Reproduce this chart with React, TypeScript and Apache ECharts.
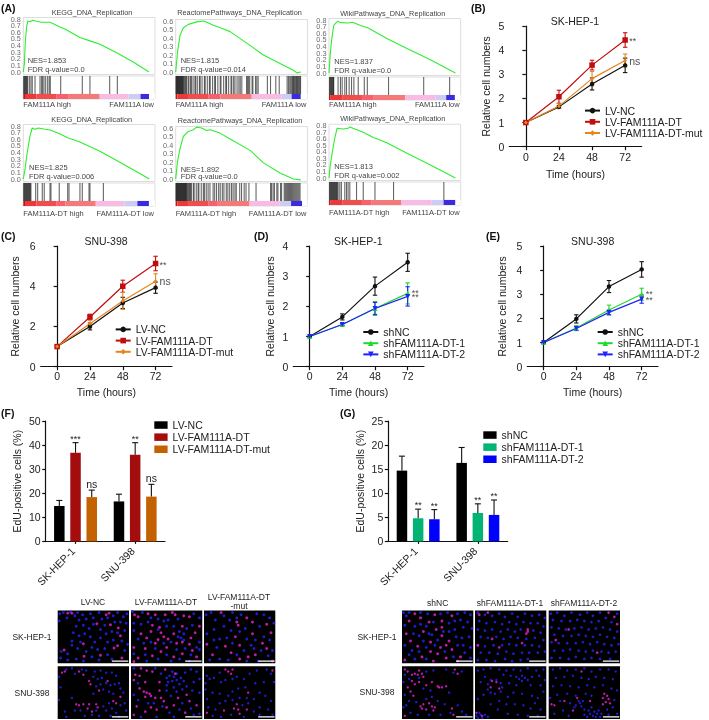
import React, { useEffect, useRef } from "react";
import * as echarts from "echarts";

const FONT = "Liberation Sans";
const INK = "#222222";
const GREY = "#444444";

// ---------- Panel A: enrichment curves [rank %, enrichment score] ----------
const esKeggHigh = [[0,0],[0.8,0.12],[1.5,0.45],[2.5,0.68],[3.5,0.77],[5.1,0.76],[7.1,0.78],[10.1,0.765],[13.9,0.75],[20.3,0.75],[27.8,0.68],[31.6,0.65],[43,0.52],[50.6,0.47],[58.2,0.42],[70.9,0.29],[83.5,0.15],[95.4,0]];
const esReactHigh = [[0,0],[1.5,0.25],[3.3,0.43],[5.8,0.52],[9.6,0.56],[15.9,0.59],[21.5,0.6],[28.6,0.55],[36,0.51],[41.3,0.475],[54,0.34],[66.6,0.2],[79.2,0.1],[89.4,0.02],[92,-0.01],[95,0]];
const esWikiHigh = [[0,0],[1,0.3],[2,0.5],[3.6,0.72],[6.4,0.78],[9.4,0.76],[14.5,0.755],[17.9,0.765],[23.5,0.72],[29.8,0.68],[43.9,0.52],[59.2,0.37],[77,0.2],[96,0]];
const esKeggDt = [[0,0],[1.3,0.15],[3,0.4],[5.1,0.65],[6.8,0.77],[8.9,0.75],[11.4,0.77],[16.5,0.75],[20.3,0.74],[26.6,0.69],[34.2,0.62],[43,0.56],[58.2,0.42],[70.9,0.28],[83.5,0.14],[95.7,0]];
const esReactDt = [[0,0],[1.3,0.2],[3.3,0.36],[5.8,0.5],[9.6,0.56],[13.4,0.58],[15.9,0.61],[19.7,0.6],[23.5,0.57],[26.1,0.58],[33.7,0.54],[41.3,0.47],[56.5,0.337],[66.6,0.19],[79.2,0.07],[89.4,0],[95,-0.01]];
const esWikiDt = [[0,0],[1,0.2],[2.6,0.4],[4.3,0.6],[6.1,0.76],[10.7,0.75],[14.5,0.76],[15.8,0.78],[19.6,0.75],[26,0.7],[33.7,0.62],[43.9,0.54],[59.2,0.38],[77,0.2],[96,0]];

// gene hit ranks (%)
const hitsKeggHigh = [0.3,0.8,1.3,1.8,2.3,2.8,3.3,4.6,5.8,6.8,8.9,12.7,13.9,14.7,15.7,17,18.5,19.7,20.5,28.4,44.8,50.6,65.6,71.4];
const hitsReactHigh = [0.2,0.6,1,1.4,1.8,2.2,2.6,3,3.4,3.8,4.2,4.6,5,5.4,5.8,6.4,7,7.6,8.2,9.4,10,11.2,12,13.2,14.6,15.2,16.4,18,18.6,20,21.8,22.4,24,25.6,26.2,28,29.6,30.2,32,33.8,34.4,36.4,38,38.6,40.2,42,42.6,44,45,46.6,48,49,50.2,53.8,54.6,55.4,56.2,58,58.6,60.6,61.6,62.6,69.6,72,76,78.6,84.6,85.6,86.6,87.4,88.2,88.8,89.4,90,90.6,91.2,91.8,92.4,93,93.6,94.2,94.8];
const hitsWikiHigh = [0.3,0.8,1.3,1.8,2.3,2.8,3.3,3.6,6.9,8.7,10,12,13.3,15.3,17.1,18.9,22.2,26.8,29.1,45.2,71.9,91.6];
const hitsKeggDt = [0.3,0.8,1.3,1.8,2.3,2.8,3.3,3.8,4.3,4.8,5.3,5.8,9.4,10.9,14.4,15.9,20.3,21,27.3,33.7,34.7,43,44.8,49.9,50.6,60.8];
const hitsReactDt = [0.2,0.6,1,1.4,1.8,2.2,2.6,3,3.4,3.8,4.2,4.6,5,5.4,5.8,6.2,6.6,7,7.4,7.8,8.2,8.8,9.4,10,10.6,11.2,12,13.4,14,15.6,17,17.6,19.4,21,21.8,23.2,24.6,26,28.4,29.6,31,32.6,33.8,35.4,36.6,38.4,39.6,41,42.4,43.6,45,46,48.6,50,52,53.4,55.6,61,72,72.8,74,75,76.8,77.6,79.6,80.4,82.4,83.2,84,84.8,85.6,86.4,87.2,88,88.8,89.6,90.4,91.2,92,92.8,93.6,94.4];
const hitsWikiDt = [0.3,0.8,1.3,1.8,2.3,2.8,3.3,3.8,4.3,4.8,5.3,5.8,6.3,6.9,8.2,9.4,12,13.3,14.5,15.8,20.9,26,34.9,49,87.2];

// ranked list colour bands: end rank (%) of each band
const bandColors = ["#c01818", "#ee3838", "#f04d4d", "#f86070", "#f47a7a", "#f8bce4", "#ccccf4", "#3a2ae0", "#ffffff"];
const bandsKeggHigh = [1.3, 10, 25, 34, 58, 80, 89, 95.5, 100];
const bandsReactHigh = [1.3, 10, 25, 34, 57.7, 80.5, 88, 95, 100];
const bandsWikiHigh = [1.3, 10, 25, 34, 58, 81, 89, 95.6, 100];
const bandsKeggDt = [1.3, 10, 25, 32, 55, 77, 86.6, 95.4, 100];
const bandsReactDt = [1.3, 10, 25, 32, 56, 79, 87.6, 96, 100];
const bandsWikiDt = [1.3, 10, 25, 32, 55, 78, 87, 96, 100];

// ---------- Panels B-E: growth curves ----------
const hours = [0, 24, 48, 72];
const lvNames = ["LV-NC", "LV-FAM111A-DT", "LV-FAM111A-DT-mut"];
const shNames = ["shNC", "shFAM111A-DT-1", "shFAM111A-DT-2"];

const bNc = [1, 1.65, 2.6, 3.37];
const bNcErr = [0, 0.05, 0.25, 0.3];
const bDt = [1, 2.07, 3.38, 4.42];
const bDtErr = [0, 0.27, 0.2, 0.3];
const bMut = [1, 1.68, 2.82, 3.57];
const bMutErr = [0, 0.1, 0.3, 0.27];

const cNc = [1, 2, 3.17, 3.93];
const cNcErr = [0, 0.17, 0.28, 0.28];
const cDt = [1, 2.47, 4, 5.13];
const cDtErr = [0, 0.14, 0.3, 0.36];
const cMut = [1, 2.13, 3.27, 4.25];
const cMutErr = [0, 0.2, 0.42, 0.37];

const dNc = [1, 1.65, 2.67, 3.46];
const dNcErr = [0, 0.1, 0.3, 0.3];
const dSh1 = [1, 1.4, 1.93, 2.43];
const dSh1Err = [0, 0.04, 0.23, 0.35];
const dSh2 = [1, 1.4, 1.93, 2.33];
const dSh2Err = [0, 0.03, 0.2, 0.32];

const eNc = [1, 1.98, 3.32, 4.03];
const eNcErr = [0, 0.17, 0.25, 0.32];
const eSh1 = [1, 1.6, 2.35, 3];
const eSh1Err = [0, 0.1, 0.2, 0.25];
const eSh2 = [1, 1.58, 2.25, 2.8];
const eSh2Err = [0, 0.08, 0.1, 0.17];

// ---------- Panels F, G: EdU bars ----------
const cellLines = ["SK-HEP-1", "SNU-398"];
const fNc = [14.7, 16.6];
const fNcTop = [17, 19.6];
const fDt = [36.8, 36];
const fDtTop = [41, 41];
const fMut = [18.4, 18.6];
const fMutTop = [21.3, 23.7];
const gNc = [14.7, 16.3];
const gNcTop = [17.7, 19.5];
const gSh1 = [4.8, 5.9];
const gSh1Top = [6.7, 7.8];
const gSh2 = [4.6, 5.5];
const gSh2Top = [6.6, 8.6];

// ---------- Micrographs: nuclei, % of panel width, % of panel height ----------
const skNcBlue = [[2,20],[3,6],[8,4],[13,14],[18,3],[24,10],[30,18],[28,4],[35,8],[40,16],[46,6],[50,14],[58,4],[62,16],[70,14],[78,10],[84,4],[92,12],[97,6],[96,24],[88,22],[80,22],[66,28],[60,36],[50,26],[44,34],[36,28],[26,30],[22,42],[30,48],[38,44],[46,50],[32,60],[52,60],[60,52],[68,44],[76,40],[84,42],[94,38],[90,58],[78,56],[70,60],[66,72],[56,74],[48,70],[40,78],[28,72],[20,66],[14,82],[5,78],[4,90],[14,94],[26,92],[36,96],[48,88],[58,94],[70,84],[76,92],[94,76],[98,64],[20,58]];
const skNcPink = [[74,27],[85,33],[55,25],[68,8],[72,5],[88,48],[36,63],[84,67],[79,71],[9,75],[37,87],[60,85],[90,90],[20,5],[14,5]];
const skDtBlue = [[2,2],[16,4],[28,14],[38,16],[52,18],[66,16],[88,6],[96,14],[4,24],[14,26],[24,22],[50,30],[60,30],[68,40],[78,34],[86,28],[66,50],[70,52],[74,56],[4,38],[10,54],[18,62],[28,60],[34,72],[46,62],[56,60],[64,74],[76,72],[84,84],[96,60],[96,74],[4,82],[20,84],[22,96],[38,92],[50,84],[56,96],[68,92],[82,96],[92,70],[74,44],[46,20],[38,36]];
const skDtPink = [[5,8],[10,12],[24,6],[34,8],[48,8],[58,4],[62,8],[74,10],[82,12],[30,28],[40,32],[42,42],[46,50],[52,54],[60,44],[38,55],[28,40],[22,52],[4,70],[10,90],[4,97],[20,72],[34,62],[30,86],[42,78],[50,70],[64,62],[72,60],[84,52],[82,64],[90,42],[96,30],[60,88],[72,82],[92,88],[86,76],[72,30],[14,44]];
const skMutBlue = [[3,8],[10,4],[16,18],[28,10],[36,18],[40,4],[52,8],[74,6],[84,8],[92,14],[98,24],[78,30],[58,34],[50,40],[38,38],[28,30],[14,36],[4,44],[22,54],[32,52],[60,54],[72,56],[84,50],[92,56],[66,66],[56,76],[40,62],[18,70],[8,94],[22,92],[34,94],[46,84],[60,96],[70,72],[80,76],[76,96],[96,76],[90,86],[14,56],[46,14]];
const skMutPink = [[46,22],[48,28],[60,14],[68,22],[88,26],[94,42],[68,44],[44,50],[30,68],[38,80],[12,84],[4,64],[24,4],[50,66],[72,84],[88,72],[96,96],[82,62],[62,88],[50,92]];
const snuNcBlue = [[2,20],[12,6],[20,4],[24,14],[34,6],[40,8],[52,10],[60,8],[68,12],[76,12],[82,18],[50,20],[56,24],[62,22],[68,32],[74,36],[80,34],[86,32],[60,34],[54,38],[64,44],[72,48],[78,52],[50,52],[88,42],[92,50],[4,40],[2,64],[10,86],[12,96],[24,84],[32,84],[38,94],[48,92],[54,84],[58,94],[64,76],[68,84],[72,70],[76,80],[82,88],[88,74],[94,70],[96,84],[74,94],[86,96],[20,60]];
const snuNcPink = [[6,12],[10,10],[30,10],[36,16],[44,28],[46,34],[58,46],[70,28],[26,72],[30,74],[36,72],[42,80],[54,72],[56,78],[78,66],[82,70],[88,58],[44,72],[48,86]];
const snuDtBlue = [[4,4],[34,4],[42,14],[54,18],[58,28],[50,22],[60,20],[64,26],[70,22],[68,34],[52,30],[76,12],[84,6],[92,10],[96,24],[88,30],[78,38],[60,40],[50,46],[56,56],[64,48],[72,44],[86,46],[96,50],[10,32],[4,54],[10,64],[24,70],[32,70],[44,76],[54,88],[60,96],[68,82],[72,70],[84,80],[96,90],[88,92],[36,96],[14,96],[50,36],[64,14],[74,28],[58,10]];
const snuDtPink = [[6,16],[12,18],[20,30],[4,26],[14,4],[22,8],[30,10],[48,6],[62,14],[18,48],[22,50],[26,52],[20,58],[28,56],[34,60],[40,46],[42,60],[46,66],[50,78],[60,74],[36,82],[8,76],[4,92],[20,86],[28,78],[66,60],[78,54],[82,66],[76,88],[92,74],[40,30],[12,42]];
const snuMutBlue = [[4,18],[8,24],[2,32],[14,22],[22,12],[24,30],[30,26],[40,24],[46,20],[56,24],[64,14],[74,8],[88,6],[94,14],[98,30],[84,30],[72,32],[58,40],[48,42],[40,48],[34,56],[22,52],[12,50],[4,62],[6,78],[16,82],[22,70],[30,66],[40,64],[50,60],[60,60],[70,62],[78,50],[86,56],[94,66],[90,82],[78,78],[70,86],[62,70],[54,74],[38,92],[24,96],[12,94],[56,96],[78,92],[96,92],[2,44]];
const snuMutPink = [[30,6],[34,10],[38,14],[40,6],[4,88],[28,84],[42,80],[48,82],[50,90],[46,72],[62,50],[60,82],[96,8]];
const skShNcBlue = [[2,4],[10,4],[26,4],[36,6],[54,6],[64,4],[78,6],[88,4],[96,8],[4,28],[18,30],[26,26],[34,30],[44,22],[66,24],[74,20],[82,18],[92,22],[98,34],[86,32],[74,36],[66,40],[58,40],[38,44],[24,48],[16,44],[4,66],[14,76],[24,78],[34,70],[46,66],[76,50],[84,52],[94,50],[86,66],[96,70],[78,66],[72,88],[88,80],[96,90],[60,78],[34,92],[18,92],[10,84],[50,56],[30,58],[6,10],[42,46]];
const skShNcPink = [[10,20],[18,6],[26,14],[30,40],[38,22],[46,8],[48,36],[56,20],[56,48],[62,66],[66,58],[54,70],[50,82],[40,60],[22,68],[12,58],[6,44],[40,78],[28,88],[70,74],[62,90],[44,96],[82,88],[4,94],[78,96],[56,32],[70,10]];
const skSh1Blue = [[4,4],[14,8],[24,10],[34,6],[42,12],[52,6],[60,12],[70,6],[80,10],[90,8],[98,14],[6,20],[16,24],[28,22],[38,26],[48,22],[58,26],[68,22],[78,24],[88,24],[96,30],[4,36],[14,38],[24,36],[36,40],[46,36],[56,40],[64,36],[82,38],[92,42],[8,50],[18,52],[30,50],[40,54],[50,50],[60,52],[72,54],[84,52],[96,56],[4,66],[14,68],[26,66],[38,66],[48,64],[58,66],[70,66],[80,66],[90,68],[8,80],[20,80],[32,82],[44,78],[54,82],[66,80],[76,80],[88,80],[98,78],[4,94],[16,94],[28,96],[42,92],[52,96],[64,94],[74,92]];
const skSh1Pink = [[74,36],[74,40],[72,44],[18,4],[6,8],[24,54],[4,66],[34,70],[66,62]];
const skSh2Blue = [[3,6],[12,4],[22,10],[32,4],[44,8],[54,4],[62,10],[72,4],[80,14],[96,6],[6,18],[18,20],[30,20],[40,18],[50,20],[60,22],[70,20],[88,22],[4,32],[14,34],[24,36],[36,34],[46,32],[56,36],[66,34],[76,32],[86,36],[96,40],[8,46],[20,48],[32,48],[42,46],[52,48],[62,50],[72,46],[82,50],[92,52],[4,60],[14,62],[26,62],[38,62],[48,60],[58,64],[68,60],[78,64],[88,66],[98,64],[8,76],[20,76],[30,74],[42,76],[52,78],[62,76],[74,78],[84,80],[94,78],[4,90],[16,90],[28,92],[38,88],[50,92],[60,90],[72,92],[86,92]];
const skSh2Pink = [[84,4],[92,12],[10,56],[68,80],[28,36],[96,26]];
const snuShNcBlue = [[4,16],[10,24],[2,30],[24,22],[34,10],[44,8],[62,6],[72,12],[84,10],[4,54],[10,66],[20,68],[2,78],[12,88],[22,92],[34,62],[42,58],[50,66],[60,72],[78,74],[84,86],[90,92],[68,88],[54,92],[38,92],[30,42],[40,46],[66,50],[6,74]];
const snuShNcPink = [[4,6],[8,10],[14,16],[18,14],[22,16],[24,8],[28,14],[30,20],[14,28],[18,34],[24,30],[8,40],[12,48],[16,56],[34,36],[42,30],[50,38],[52,40],[56,40],[62,38],[30,72],[26,76],[28,80],[34,82],[38,70],[42,76],[44,84],[46,78],[70,80],[72,92],[74,6],[78,14],[4,94]];
const snuSh1Blue = [[4,8],[12,6],[22,4],[34,6],[44,8],[54,6],[64,8],[74,4],[86,8],[96,6],[14,20],[8,30],[40,16],[50,18],[58,20],[62,24],[66,18],[70,22],[66,28],[74,26],[80,20],[90,18],[98,26],[22,26],[30,26],[36,32],[38,40],[36,48],[28,52],[22,50],[18,44],[18,34],[48,32],[58,36],[78,36],[92,36],[96,48],[12,54],[4,62],[46,58],[54,50],[66,52],[80,56],[88,60],[84,70],[78,80],[92,82],[68,74],[56,72],[44,72],[34,66],[22,72],[32,82],[46,90],[60,92],[74,94],[88,94],[2,94],[6,88],[10,98],[14,92],[4,98],[18,96],[8,92]];
const snuSh1Pink = [[24,28],[30,30],[34,42],[22,40],[10,94],[2,88]];
const snuSh2Blue = [[6,6],[16,4],[26,8],[38,6],[50,4],[60,10],[72,6],[84,6],[94,10],[10,22],[22,20],[34,18],[46,22],[56,24],[66,20],[78,22],[90,24],[6,38],[18,36],[30,38],[42,40],[54,36],[64,40],[76,36],[88,42],[96,46],[12,54],[26,52],[38,56],[52,52],[60,56],[2,60],[16,66],[30,70],[38,74],[42,66],[44,70],[46,76],[48,66],[36,78],[50,82],[56,84],[60,78],[64,86],[58,90],[62,94],[66,96],[54,96],[68,90],[70,84],[72,96],[74,90],[50,92],[20,84],[8,90],[28,94],[82,82],[90,78],[96,90],[84,92],[92,64]];
const snuSh2Pink = [[4,72],[8,74],[22,66],[40,60],[58,66],[76,60],[78,52],[82,56],[84,62],[80,68],[86,70],[76,72],[34,84],[46,10]];
const scaleBarSpan = [76, 99];
const scaleBarHeight = 96;

function buildOption() {
  const grids: any[] = [];
  const xAxes: any[] = [];
  const yAxes: any[] = [];
  const series: any[] = [];
  const legends: any[] = [];
  const texts: any[] = [];

  const text = (s: string, x: number, y: number, size: number, o: any = {}) => {
    const align = o.align || "left";
    texts.push({
      type: "text", x, y, z: 50, silent: true,
      style: {
        text: s, fontSize: size, fontFamily: FONT, fontWeight: o.weight || "normal",
        fill: o.color || INK, align, textAlign: align, verticalAlign: "middle", textVerticalAlign: "middle",
      },
    });
  };

  const addAxes = (g: any, x: any, y: any) => {
    grids.push({ containLabel: false, ...g });
    const i = grids.length - 1;
    xAxes.push({ gridIndex: i, ...x });
    yAxes.push({ gridIndex: i, ...y });
    return i;
  };

  // -------- panel A --------
  const gsea = (c: any) => {
    const L = c.left, W = 131.7;
    const pxPerUnit = (c.zero - c.topY) / c.maxTick;
    const ticks: number[] = [];
    for (let t = 0; t <= c.maxTick * 10 + 0.01; t++) ticks.push(t / 10);
    const i = addAxes(
      { left: L, top: c.topY - 1.5, width: W, height: c.zero - c.topY + 4, show: true, borderColor: "#dddddd", borderWidth: 1, backgroundColor: "#ffffff" },
      { type: "value", min: 0, max: 100, show: false },
      {
        type: "value", min: -2.5 / pxPerUnit, max: c.maxTick + 1.5 / pxPerUnit,
        axisLine: { show: false }, axisTick: { show: false }, splitLine: { show: false }, axisLabel: { show: false },
      },
    );
    series.push({
      type: "line", xAxisIndex: i, yAxisIndex: i, data: c.es, symbol: "none", silent: true,
      lineStyle: { color: "#2fee2f", width: 1.1 },
    });
    // tick labels hung on the score scale, so every 0.1 step stays visible
    series.push({
      type: "scatter", xAxisIndex: i, yAxisIndex: i, silent: true, symbolSize: 1, clip: false,
      itemStyle: { color: "rgba(0,0,0,0)" },
      data: ticks.map((t) => [0, t]),
      label: { show: true, position: "left", distance: 2, formatter: (p: any) => p.value[1].toFixed(1), fontSize: 7.3, fontFamily: FONT, color: GREY },
    });
    const s = addAxes(
      { left: L, top: c.zero + 4, width: W, height: 23, show: true, borderColor: "#dddddd", borderWidth: 1 },
      { type: "value", min: 0, max: 100, show: false },
      { type: "value", min: 0, max: 1, show: false },
    );
    const split = 0.22;
    series.push({
      type: "custom", xAxisIndex: s, yAxisIndex: s, silent: true, clip: true,
      data: c.bands.map((end: number, k: number) => [k === 0 ? 0 : c.bands[k - 1], end, k]),
      encode: { x: [0, 1] },
      renderItem: (_: any, api: any) => {
        const a = api.coord([api.value(0), split]);
        const b = api.coord([api.value(1), 0]);
        return { type: "rect", shape: { x: a[0], y: a[1], width: b[0] - a[0], height: b[1] - a[1] }, style: { fill: bandColors[api.value(2)] } };
      },
    });
    series.push({
      type: "custom", xAxisIndex: s, yAxisIndex: s, silent: true, clip: true,
      data: c.hits.map((h: number) => [h]),
      encode: { x: 0 },
      renderItem: (_: any, api: any) => {
        const a = api.coord([api.value(0), 1]);
        const b = api.coord([api.value(0), split]);
        return { type: "rect", shape: { x: a[0] - 0.55, y: a[1], width: 1.1, height: b[1] - a[1] }, style: { fill: "rgba(0,0,0,0.6)" } };
      },
    });
    text(c.title, c.titleX, c.titleY, 7.3, { align: "center", color: GREY });
    text(c.nes, c.noteX, c.nesY, 7.5, { color: GREY });
    text(c.fdr, c.noteX, c.fdrY, 7.5, { color: GREY });
    text(c.highLabel, L, c.labelY, 7.5, { color: GREY });
    text(c.lowLabel, L + W - 1, c.labelY, 7.5, { align: "right", color: GREY });
  };
  const kegg = "KEGG_DNA_Replication", react = "ReactomePathways_DNA_Replication", wiki = "WikiPathways_DNA_Replication";
  gsea({ left: 23.3, topY: 19, zero: 72, maxTick: 0.8, es: esKeggHigh, hits: hitsKeggHigh, bands: bandsKeggHigh, title: kegg, titleX: 92, titleY: 12, nes: "NES=1.853", fdr: "FDR q-value=0.0", noteX: 27.7, nesY: 60, fdrY: 69, highLabel: "FAM111A high", lowLabel: "FAM111A low", labelY: 104 });
  gsea({ left: 175.7, topY: 21, zero: 72, maxTick: 0.6, es: esReactHigh, hits: hitsReactHigh, bands: bandsReactHigh, title: react, titleX: 239.5, titleY: 12.5, nes: "NES=1.815", fdr: "FDR q-value=0.014", noteX: 180.7, nesY: 60.7, fdrY: 69, highLabel: "FAM111A high", lowLabel: "FAM111A low", labelY: 104 });
  gsea({ left: 329, topY: 20, zero: 73, maxTick: 0.8, es: esWikiHigh, hits: hitsWikiHigh, bands: bandsWikiHigh, title: wiki, titleX: 392.7, titleY: 13.3, nes: "NES=1.837", fdr: "FDR q-value=0.0", noteX: 334.3, nesY: 61, fdrY: 70, highLabel: "FAM111A high", lowLabel: "FAM111A low", labelY: 104 });
  gsea({ left: 23.3, topY: 126, zero: 179, maxTick: 0.8, es: esKeggDt, hits: hitsKeggDt, bands: bandsKeggDt, title: kegg, titleX: 91.7, titleY: 119, nes: "NES=1.825", fdr: "FDR q-value=0.006", noteX: 29, nesY: 167.3, fdrY: 176.3, highLabel: "FAM111A-DT high", lowLabel: "FAM111A-DT low", labelY: 213 });
  gsea({ left: 175.7, topY: 128, zero: 179, maxTick: 0.6, es: esReactDt, hits: hitsReactDt, bands: bandsReactDt, title: react, titleX: 240, titleY: 120, nes: "NES=1.892", fdr: "FDR q-value=0.0", noteX: 180.7, nesY: 169, fdrY: 176.7, highLabel: "FAM111A-DT high", lowLabel: "FAM111A-DT low", labelY: 213 });
  gsea({ left: 329, topY: 125.7, zero: 178, maxTick: 0.8, es: esWikiDt, hits: hitsWikiDt, bands: bandsWikiDt, title: wiki, titleX: 392.7, titleY: 118.3, nes: "NES=1.813", fdr: "FDR q-value=0.002", noteX: 334.3, nesY: 166, fdrY: 175, highLabel: "FAM111A-DT high", lowLabel: "FAM111A-DT low", labelY: 212 });

  // -------- panels B-E --------
  const axisLine = { show: true, lineStyle: { color: "#111111", width: 1.2 } };
  const tickLab = { fontSize: 10.5, fontFamily: FONT, color: INK };
  const nameText = { fontSize: 10.5, fontFamily: FONT, color: INK };

  const growth = (c: any) => {
    const i = addAxes(
      { left: c.left, top: c.top, width: c.width, height: c.bottom - c.top },
      {
        type: "value", min: -12, max: 84, splitLine: { show: false }, axisLine,
        axisTick: { show: true, length: 3.5, customValues: hours, lineStyle: { color: "#111111", width: 1.2 } },
        axisLabel: { ...tickLab, customValues: hours, margin: c.xMargin },
        name: "Time (hours)", nameLocation: "middle", nameGap: c.xGap, nameTextStyle: nameText,
      },
      {
        type: "value", min: 0, max: c.yMax, interval: c.yStep, splitLine: { show: false }, axisLine,
        axisTick: { show: true, length: 3.5, lineStyle: { color: "#111111", width: 1.2 } },
        axisLabel: { ...tickLab, margin: 5 },
        name: "Relative cell numbers", nameLocation: "middle", nameGap: c.yGap, nameTextStyle: nameText,
      },
    );
    c.lines.forEach((l: any) => {
      series.push({
        type: "line", name: l.name, xAxisIndex: i, yAxisIndex: i, silent: true, z: 3,
        data: hours.map((h, k) => [h, l.vals[k]]),
        symbol: l.symbol, symbolSize: l.size, symbolRotate: l.rotate || 0,
        lineStyle: { color: l.color, width: 1.2 }, itemStyle: { color: l.color },
      });
      series.push({
        type: "custom", xAxisIndex: i, yAxisIndex: i, silent: true, z: 2,
        data: hours.map((h, k) => [h, l.vals[k] - l.errs[k], l.vals[k] + l.errs[k]]),
        encode: { x: 0, y: [1, 2] },
        renderItem: (_: any, api: any) => {
          const lo = api.coord([api.value(0), api.value(1)]);
          const hi = api.coord([api.value(0), api.value(2)]);
          const st = { stroke: l.color, lineWidth: 1.1 };
          return {
            type: "group",
            children: [
              { type: "line", shape: { x1: lo[0], y1: lo[1], x2: hi[0], y2: hi[1] }, style: st },
              { type: "line", shape: { x1: lo[0] - 2.2, y1: lo[1], x2: lo[0] + 2.2, y2: lo[1] }, style: st },
              { type: "line", shape: { x1: hi[0] - 2.2, y1: hi[1], x2: hi[0] + 2.2, y2: hi[1] }, style: st },
            ],
          };
        },
      });
    });
    c.notes.forEach((n: any) => {
      const isNs = n[2] === "ns";
      series.push({
        type: "scatter", xAxisIndex: i, yAxisIndex: i, silent: true, symbolSize: 1, z: 4,
        itemStyle: { color: "rgba(0,0,0,0)" },
        data: [[n[0], n[1]]],
        label: { show: true, position: "right", distance: n[3], offset: [0, n[4]], formatter: () => n[2], fontFamily: FONT, fontSize: isNs ? 10.5 : 9, lineHeight: isNs ? 12 : 3.5, color: INK },
      });
    });
    legends.push({
      left: c.legendLeft, top: c.legendTop, orient: "vertical", padding: 0, itemGap: 0, itemWidth: 15, itemHeight: 7,
      selectedMode: false, data: c.lines.map((l: any) => l.name),
      textStyle: { fontSize: 10.5, fontFamily: FONT, color: INK, lineHeight: 11.2 },
    });
    text(c.title, c.titleX, c.titleY, 10.5, { align: "center" });
  };

  const RED = "#c00d0d", ORANGE = "#e6851e", BLACK = "#111111", GREEN = "#22d82c", BLUE = "#2222ff";
  const lvLines = (a: number[], ae: number[], b: number[], be: number[], m: number[], me: number[]) => [
    { name: lvNames[0], vals: a, errs: ae, color: BLACK, symbol: "circle", size: 4.5 },
    { name: lvNames[1], vals: b, errs: be, color: RED, symbol: "rect", size: 5.5 },
    { name: lvNames[2], vals: m, errs: me, color: ORANGE, symbol: "diamond", size: 4 },
  ];
  const shLines = (a: number[], ae: number[], b: number[], be: number[], m: number[], me: number[]) => [
    { name: shNames[0], vals: a, errs: ae, color: BLACK, symbol: "circle", size: 4.5 },
    { name: shNames[1], vals: b, errs: be, color: GREEN, symbol: "triangle", size: 5 },
    { name: shNames[2], vals: m, errs: me, color: BLUE, symbol: "triangle", size: 5, rotate: 180 },
  ];
  growth({ left: 509.3, top: 26, width: 132.4, bottom: 146.7, yMax: 5, yStep: 1, xMargin: 5, xGap: 21.7, yGap: 18, title: "SK-HEP-1", titleX: 575, titleY: 21, lines: lvLines(bNc, bNcErr, bDt, bDtErr, bMut, bMutErr), notes: [[72, 4.42, "**", 3.5, 1], [72, 3.57, "ns", 3.5, 0]], legendLeft: 584, legendTop: 105 });
  growth({ left: 40.7, top: 246, width: 131.3, bottom: 366.7, yMax: 6, yStep: 2, xMargin: 3.5, xGap: 19.7, yGap: 20, title: "SNU-398", titleX: 106, titleY: 240.7, lines: lvLines(cNc, cNcErr, cDt, cDtErr, cMut, cMutErr), notes: [[72, 5.13, "**", 3.5, 1], [72, 4.25, "ns", 3.5, 0]], legendLeft: 114.7, legendTop: 323.8 });
  growth({ left: 293.3, top: 246, width: 130.7, bottom: 366.7, yMax: 4, yStep: 1, xMargin: 3.5, xGap: 19.7, yGap: 18, title: "SK-HEP-1", titleX: 358.3, titleY: 240.7, lines: shLines(dNc, dNcErr, dSh1, dSh1Err, dSh2, dSh2Err), notes: [[72, 2.43, "**", 3.5, 0], [72, 2.33, "**", 3.5, 1]], legendLeft: 362.3, legendTop: 326.4 });
  growth({ left: 527.3, top: 246, width: 130.7, bottom: 366.7, yMax: 5, yStep: 1, xMargin: 3.5, xGap: 19.7, yGap: 20, title: "SNU-398", titleX: 592.7, titleY: 240.7, lines: shLines(eNc, eNcErr, eSh1, eSh1Err, eSh2, eSh2Err), notes: [[72, 3, "**", 3.5, 0], [72, 2.8, "**", 3.5, 1]], legendLeft: 596.7, legendTop: 326.4 });

  // -------- panels F, G --------
  const BAR_W = 10.5, BAR_GAP = 5.7;
  const edu = (c: any) => {
    const i = addAxes(
      { left: c.left, top: c.top, width: c.width, height: 120.4 },
      {
        type: "category", data: cellLines, axisLine,
        axisTick: { show: true, alignWithLabel: true, length: 2.5, lineStyle: { color: "#111111", width: 1.2 } },
        axisLabel: { ...tickLab, rotate: 45, margin: 6, interval: 0, padding: [0, 3, 0, 0] },
      },
      {
        type: "value", min: 0, max: c.yMax, interval: c.yStep, splitLine: { show: false }, axisLine,
        axisTick: { show: true, length: 3.5, lineStyle: { color: "#111111", width: 1.2 } },
        axisLabel: { ...tickLab, margin: 5 },
        name: "EdU-positive cells (%)", nameLocation: "middle", nameGap: c.yGap, nameTextStyle: nameText,
      },
    );
    c.bars.forEach((b: any, k: number) => {
      series.push({
        type: "bar", name: c.prefix + b.name, xAxisIndex: i, yAxisIndex: i, silent: true, barWidth: BAR_W, barGap: (BAR_GAP / BAR_W) * 100 + "%",
        data: b.vals, itemStyle: { color: b.color },
      });
      series.push({
        type: "custom", xAxisIndex: i, yAxisIndex: i, silent: true, z: 3,
        data: b.vals.map((v: number, j: number) => [j, v, b.tops[j]]),
        encode: { x: 0, y: [1, 2] },
        renderItem: (_: any, api: any) => {
          const j = api.value(0);
          const lo = api.coord([j, api.value(1)]);
          const hi = api.coord([j, api.value(2)]);
          const x = lo[0] + (k - 1) * (BAR_W + BAR_GAP);
          const mark = b.sig[j];
          const st = { stroke: "#111111", lineWidth: 1.1 };
          return {
            type: "group",
            children: [
              { type: "line", shape: { x1: x, y1: lo[1], x2: x, y2: hi[1] }, style: st },
              { type: "line", shape: { x1: x - 3, y1: hi[1], x2: x + 3, y2: hi[1] }, style: st },
              {
                type: "text", x, y: hi[1] + (mark === "ns" ? -0.5 : 0.5),
                style: { text: mark, align: "center", textAlign: "center", verticalAlign: "bottom", textVerticalAlign: "bottom", fontFamily: FONT, fontSize: mark === "ns" ? 10.5 : 9, fill: INK },
              },
            ],
          };
        },
      });
    });
    legends.push({
      left: c.legendLeft, top: c.legendTop, orient: "vertical", padding: 0, itemGap: 0, itemWidth: 13.3, itemHeight: 7.5, icon: "rect",
      selectedMode: false, data: c.bars.map((b: any) => c.prefix + b.name), formatter: (n: string) => n.slice(c.prefix.length),
      textStyle: { fontSize: 10.5, fontFamily: FONT, color: INK, lineHeight: 12.1 },
    });
  };
  edu({
    left: 45.7, top: 421, width: 119.3, yMax: 50, yStep: 10, yGap: 23.7, prefix: "F:", legendLeft: 154.3, legendTop: 419,
    bars: [
      { name: lvNames[0], vals: fNc, tops: fNcTop, color: "#000000", sig: ["", ""] },
      { name: lvNames[1], vals: fDt, tops: fDtTop, color: "#a30d0d", sig: ["***", "**"] },
      { name: lvNames[2], vals: fMut, tops: fMutTop, color: "#c46200", sig: ["ns", "ns"] },
    ],
  });
  edu({
    left: 388.3, top: 421, width: 119.4, yMax: 25, yStep: 5, yGap: 22.6, prefix: "G:", legendLeft: 483.3, legendTop: 429,
    bars: [
      { name: shNames[0], vals: gNc, tops: gNcTop, color: "#000000", sig: ["", ""] },
      { name: shNames[1], vals: gSh1, tops: gSh1Top, color: "#00b473", sig: ["**", "**"] },
      { name: shNames[2], vals: gSh2, tops: gSh2Top, color: "#0000ff", sig: ["**", "**"] },
    ],
  });

  // -------- micrographs --------
  const micro = (left: number, top: number, blue: number[][], pink: number[][], size: number) => {
    const i = addAxes(
      { left, top, width: 71.3, height: 52.7, show: true, backgroundColor: "#000000", borderWidth: 0 },
      { type: "value", min: 0, max: 100, show: false },
      { type: "value", min: 0, max: 100, inverse: true, show: false },
    );
    series.push({ type: "scatter", xAxisIndex: i, yAxisIndex: i, silent: true, data: blue, symbolSize: size, itemStyle: { color: "#2424ff" } });
    series.push({ type: "scatter", xAxisIndex: i, yAxisIndex: i, silent: true, data: pink, symbolSize: size, z: 3, itemStyle: { color: "#f020d0" } });
    series.push({
      type: "line", xAxisIndex: i, yAxisIndex: i, silent: true, symbol: "none", z: 4,
      data: scaleBarSpan.map((x) => [x, scaleBarHeight]), lineStyle: { color: "#ffffff", width: 1.2 },
    });
  };
  const ROW1 = 610.5, ROW2 = 666.3;
  micro(57.7, ROW1, skNcBlue, skNcPink, 2.9);
  micro(131, ROW1, skDtBlue, skDtPink, 2.9);
  micro(204, ROW1, skMutBlue, skMutPink, 2.9);
  micro(57.7, ROW2, snuNcBlue, snuNcPink, 2.4);
  micro(131, ROW2, snuDtBlue, snuDtPink, 2.6);
  micro(204, ROW2, snuMutBlue, snuMutPink, 2.4);
  micro(402, ROW1, skShNcBlue, skShNcPink, 2.9);
  micro(475, ROW1, skSh1Blue, skSh1Pink, 2.7);
  micro(548.7, ROW1, skSh2Blue, skSh2Pink, 2.7);
  micro(402, ROW2, snuShNcBlue, snuShNcPink, 2.4);
  micro(475, ROW2, snuSh1Blue, snuSh1Pink, 2.4);
  micro(548.7, ROW2, snuSh2Blue, snuSh2Pink, 2.4);

  text("LV-NC", 93, 602, 8.5, { align: "center" });
  text("LV-FAM111A-DT", 166, 602, 8.5, { align: "center" });
  text("LV-FAM111A-DT", 239, 597, 8.5, { align: "center" });
  text("-mut", 239, 606, 8.5, { align: "center" });
  text("SK-HEP-1", 32, 637, 8.5, { align: "center" });
  text("SNU-398", 32, 693, 8.5, { align: "center" });
  text("shNC", 437.7, 603, 8.5, { align: "center" });
  text("shFAM111A-DT-1", 510, 603, 8.5, { align: "center" });
  text("shFAM111A-DT-2", 584, 603, 8.5, { align: "center" });
  text("SK-HEP-1", 377, 637, 8.5, { align: "center" });
  text("SNU-398", 377, 692, 8.5, { align: "center" });

  [["(A)", 1, 7.5], ["(B)", 471, 8], ["(C)", 1, 235.5], ["(D)", 254, 236], ["(E)", 486, 236], ["(F)", 1, 413], ["(G)", 340, 413]].forEach((p: any) =>
    text(p[0], p[1], p[2], 10.5, { weight: "bold", color: "#111111" }),
  );

  return { animation: false, backgroundColor: "#ffffff", grid: grids, xAxis: xAxes, yAxis: yAxes, series, legend: legends, graphic: { elements: texts } };
}

export default function App() {
  const ref = useRef<HTMLDivElement>(null);
  useEffect(() => {
    document.body.style.margin = "0";
    const chart = echarts.init(ref.current as HTMLDivElement, undefined, { renderer: "svg" });
    chart.setOption(buildOption() as any);
    return () => chart.dispose();
  }, []);
  return <div ref={ref} style={{ width: 709, height: 720, filter: "blur(0.35px)" }} />;
}
